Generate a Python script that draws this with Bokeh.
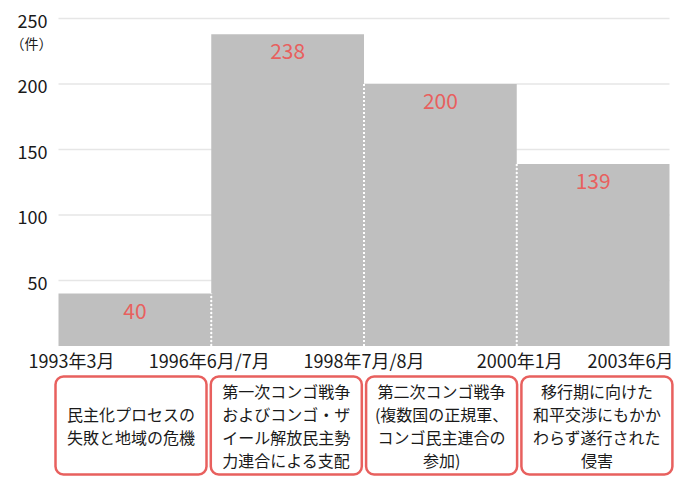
import numpy as np
from bokeh.plotting import figure
from bokeh.models import Range1d
from bokeh.core.properties import value
from bokeh.embed import file_html
from bokeh.resources import INLINE

# ---- data ----
periods = ["1993年3月", "1996年6月/7月", "1998年7月/8月", "2000年1月", "2003年6月"]
counts = [40, 238, 200, 139]
descriptions = [
    "民主化プロセスの\n失敗と地域の危機",
    "第一次コンゴ戦争\nおよびコンゴ・ザ\nイール解放民主勢\n力連合による支配",
    "第二次コンゴ戦争\n(複数国の正規軍、\nコンゴ民主連合の\n参加)",
    "移行期に向けた\n和平交渉にもかか\nわらず遂行された\n侵害",
]
y_ticks = [50, 100, 150, 200, 250]
unit_label = "（件）"

FONT = "Noto Sans CJK JP"
RED = "#e8605e"
BAR = "#bfbfbf"
INK = "#1a1a1a"

# ---- layout (pixels) ----
W, H = 680, 480
BAR_PX = 152.75          # width of one bar in px
X0_PX = 58               # where the first bar starts
Y_PX = 1.31              # px per count
Y0_PX = 345.5            # y=0 position from top

x_start = -X0_PX / BAR_PX
x_end = (W - X0_PX) / BAR_PX
y_end = Y0_PX / Y_PX
y_start = -(H - Y0_PX) / Y_PX

p = figure(width=W, height=H, output_backend="svg", toolbar_location=None,
           x_range=Range1d(x_start, x_end), y_range=Range1d(y_start, y_end),
           x_axis_location=None, y_axis_location=None,
           min_border_left=0, min_border_right=0,
           min_border_top=0, min_border_bottom=0)
p.outline_line_color = None
p.background_fill_color = "white"
p.border_fill_color = "white"
p.xgrid.grid_line_color = None
p.ygrid.grid_line_color = None

n = len(counts)
idx = np.arange(n)
vals = np.array(counts, dtype=float)

# grid lines (only across the bars' span)
p.segment(x0=[0] * len(y_ticks), x1=[n] * len(y_ticks), y0=y_ticks, y1=y_ticks,
          line_color="#e6e6e6", line_width=1.5)

# y tick labels
p.text(x=[0] * len(y_ticks), y=y_ticks, text=[str(t) for t in y_ticks],
       x_offset=-11, y_offset=2, text_align="right", text_baseline="middle",
       text_font=value(FONT), text_font_size="18px", text_color=INK)
# unit label
p.text(x=[0], y=[y_ticks[-1]], text=[unit_label], x_offset=-27, y_offset=24,
       text_align="center", text_baseline="middle",
       text_font=value(FONT), text_font_size="14px", text_color=INK)

# bars
p.quad(left=idx, right=idx + 1, bottom=0, top=vals, fill_color=BAR, line_color=None)

# dotted separators between adjacent bars
p.segment(x0=idx[1:], x1=idx[1:], y0=0, y1=np.minimum(vals[:-1], vals[1:]),
          line_color="white", line_width=2, line_dash="2 2")

# value labels
p.text(x=idx + 0.5, y=vals, text=[str(c) for c in counts], y_offset=17,
       text_font=value(FONT), text_font_size="21px", text_color=RED,
       text_align="center", text_baseline="middle")

# period labels
px_pos = np.arange(len(periods))
aligns = ["left", "center", "center", "center", "right"]
xoffs = [-30, -2, 0, 3, 4]
p.text(x=px_pos, y=0, text=periods, x_offset=xoffs, y_offset=14,
       text_align=aligns, text_font=value(FONT), text_font_size="18px",
       text_color=INK, text_baseline="middle")

# description boxes
box_step = 155.3 / BAR_PX
box_w = 151 / BAR_PX
box_l = -3 / BAR_PX + idx * box_step
box_top = -30.5 / Y_PX
box_bot = -128.5 / Y_PX
p.quad(left=box_l, right=box_l + box_w, top=box_top, bottom=box_bot,
       fill_color="white", line_color=RED, line_width=2.5, border_radius=8)
p.text(x=box_l + box_w / 2, y=(box_top + box_bot) / 2, text=descriptions,
       text_align="center", text_baseline="middle", text_font=value(FONT),
       text_font_size="16px", text_line_height=0.95, text_color=INK)

open("out.html", "w").write(file_html(p, INLINE))
